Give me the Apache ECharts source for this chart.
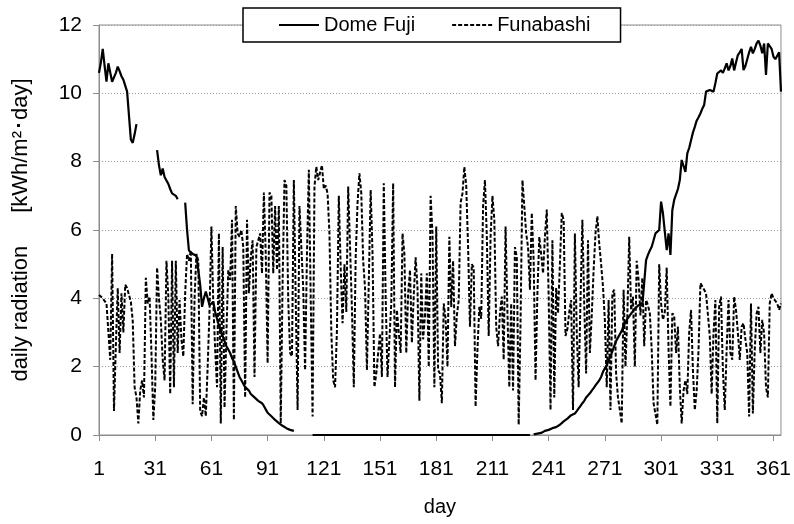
<!DOCTYPE html>
<html>
<head>
<meta charset="utf-8">
<script src="https://cdn.jsdelivr.net/npm/echarts@6/dist/echarts.min.js"></script>
<style>
  html, body { margin: 0; padding: 0; background: #fff; }
  #chart { width: 794px; height: 524px; }
</style>
</head>
<body>
<div id="chart"></div>
<script>
// daily radiation, day 1..365 (null = missing data)
const domeFuji = [
  10.6, 10.9, 11.3, 10.8, 10.34, 10.88, 10.83, 10.34, 10.34, 10.6,
  10.78, 10.65, 10.5, 10.4, 10.35, 10.05, 10.0, 8.65, 8.55, 8.8,
  9.1, null, null, null, null, null, null, null, null, null,
  null, 8.34, 7.9, 7.6, 7.8, 7.55, 7.45, 7.35, 7.2, 7.07,
  7.05, 7.0, 6.9, null, null, null, 6.8, 6.0, 5.4, 5.35,
  5.3, 5.27, 5.25, 5.2, 4.4, 3.75, 4.0, 4.2, 4.0, 3.8,
  3.85, 3.9, 3.6, 3.4, 3.2, 3.05, 2.9, 2.75, 2.6, 2.5,
  2.4, 2.25, 2.15, 2.0, 1.85, 1.7, 1.6, 1.5, 1.4, 1.35,
  1.3, 1.2, 1.15, 1.1, 1.05, 1.0, 0.95, 0.93, 0.85, 0.75,
  0.65, 0.6, 0.55, 0.5, 0.44, 0.4, 0.35, 0.3, 0.27, 0.22,
  0.2, 0.17, 0.15, 0.13, 0.12, null, null, null, null, null,
  null, null, null, null, 0, 0, 0, 0, 0, 0,
  0, 0, 0, 0, 0, 0, 0, 0, 0, 0,
  0, 0, 0, 0, 0, 0, 0, 0, 0, 0,
  0, 0, 0, 0, 0, 0, 0, 0, 0, 0,
  0, 0, 0, 0, 0, 0, 0, 0, 0, 0,
  0, 0, 0, 0, 0, 0, 0, 0, 0, 0,
  0, 0, 0, 0, 0, 0, 0, 0, 0, 0,
  0, 0, 0, 0, 0, 0, 0, 0, 0, 0,
  0, 0, 0, 0, 0, 0, 0, 0, 0, 0,
  0, 0, 0, 0, 0, 0, 0, 0, 0, 0,
  0, 0, 0, 0, 0, 0, 0, 0, 0, 0,
  0, 0, 0, 0, 0, 0, 0, 0, 0, 0,
  0, null, 0.02, 0.03, 0.04, 0.05, 0.06, 0.1, 0.12, 0.13,
  0.15, 0.17, 0.2, 0.22, 0.23, 0.25, 0.3, 0.35, 0.4, 0.45,
  0.48, 0.52, 0.58, 0.6, 0.63, 0.7, 0.78, 0.85, 0.93, 1.0,
  1.1, 1.15, 1.22, 1.3, 1.37, 1.45, 1.5, 1.6, 1.7, 1.85,
  1.95, 2.05, 2.2, 2.3, 2.45, 2.6, 2.75, 2.85, 2.95, 3.05,
  3.2, 3.3, 3.4, 3.45, 3.55, 3.6, 3.7, 3.75, 3.8, 3.85,
  3.8, 3.75, 5.12, 5.27, 5.4, 5.51, 5.7, 5.9, 5.95, 6.0,
  6.83, 6.49, 6.45, 5.41, 5.9, 5.27, 6.58, 6.88, 6.9, 7.2,
  7.46, 8.05, 8.1, 7.7, 8.24, 8.4, 8.63, 8.85, 9.02, 9.2,
  9.3, 9.41, 9.55, 9.66, 10.05, 10.08, 10.1, 10.05, 10.05, 10.3,
  10.58, 10.6, 10.67, 10.6, 10.73, 10.88, 10.67, 10.8, 11.02, 10.67,
  10.9, 11.12, 11.2, 11.3, 10.68, 10.8, 11.0, 11.2, 11.36, 11.17,
  11.3, 11.46, 11.54, 11.4, 11.17, 11.46, 10.54, 11.46, 11.5, 11.3,
  11.07, 11.0, 10.97, 11.2, 10.05
];

const funabashi = [
  4.1, 4.1, 4.0, 4.05, 3.85, 3.9, 2.2, 5.3, 0.7, 2.6,
  4.3, 2.4, 4.15, 3.0, 4.4, 4.3, 4.1, 3.9, 3.35, 1.4,
  1.1, 0.34, 1.3, 1.6, 1.1, 4.6, 3.85, 4.05, 2.4, 0.44,
  1.4, 4.9, 4.0, 3.37, 2.2, 1.6, 5.1, 4.05, 1.2, 5.1,
  1.4, 5.1, 2.4, 3.95, 2.8, 2.3, 4.15, 5.3, 5.1, 5.4,
  0.9, 4.0, 5.3, 5.1, 0.7, 0.55, 1.1, 0.55, 2.0, 3.65,
  6.1, 3.85, 2.5, 1.4, 5.9, 0.34, 5.5, 0.8, 3.0, 4.83,
  4.54, 6.3, 0.44, 6.7, 5.9, 5.8, 6.0, 5.5, 1.1, 6.3,
  4.15, 5.2, 5.7, 1.7, 5.5, 5.7, 5.9, 4.73, 7.1, 5.3,
  2.1, 7.1, 7.0, 4.73, 6.7, 4.83, 6.7, 0.34, 4.5, 7.46,
  7.3, 3.95, 2.4, 2.3, 7.46, 3.95, 0.73, 6.7, 5.5, 4.3,
  1.9, 5.3, 7.76, 4.0, 0.54, 7.27, 7.85, 7.46, 7.5, 7.9,
  7.2, 7.3, 7.07, 5.9, 3.0, 1.6, 1.4, 3.07, 7.0, 4.9,
  3.27, 5.0, 3.6, 7.27, 5.5, 3.7, 1.4, 5.2, 6.8, 7.66,
  7.07, 5.1, 4.3, 1.9, 4.5, 7.17, 5.3, 1.4, 1.8, 2.4,
  2.97, 1.7, 7.37, 4.05, 1.7, 2.8, 3.85, 7.37, 1.4, 3.66,
  3.0, 2.4, 5.9, 5.3, 2.4, 4.15, 4.83, 2.7, 4.1, 5.2,
  4.3, 1.0, 4.73, 2.8, 3.5, 4.73, 2.0, 7.0, 5.9, 1.4,
  6.1, 1.9, 1.8, 0.93, 3.85, 3.4, 2.0, 5.8, 3.75, 5.1,
  2.6, 3.5, 3.95, 6.8, 7.07, 7.85, 7.3, 5.5, 3.17, 5.0,
  4.9, 0.83, 2.5, 3.75, 3.4, 6.7, 7.46, 5.8, 2.9, 5.8,
  7.0, 6.3, 3.17, 2.6, 3.56, 4.05, 2.2, 6.1, 3.6, 1.4,
  3.85, 1.3, 5.5, 5.2, 0.3, 3.3, 7.46, 6.7, 5.9, 5.5,
  4.25, 6.5, 5.1, 1.6, 4.15, 5.8, 5.3, 4.73, 5.8, 6.6,
  4.05, 0.73, 5.7, 1.1, 4.3, 3.56, 5.0, 6.5, 6.3, 2.9,
  3.1, 3.6, 3.95, 0.73, 5.9, 3.0, 1.4, 3.95, 6.3, 3.8,
  1.8, 5.7, 2.4, 3.5, 4.83, 5.9, 6.4, 5.6, 5.0, 4.34,
  3.37, 1.4, 3.95, 0.73, 4.15, 4.25, 1.8, 1.1, 0.73, 0.34,
  4.25, 2.0, 3.5, 5.8, 3.66, 4.05, 2.0, 5.1, 4.54, 3.5,
  4.6, 2.6, 3.95, 3.8, 3.56, 2.5, 0.93, 0.9, 0.3, 5.0,
  3.85, 3.37, 3.6, 4.9, 2.5, 0.83, 3.56, 3.5, 2.4, 3.17,
  1.4, 0.34, 1.3, 1.6, 1.2, 3.0, 3.66, 1.9, 0.73, 1.3,
  2.5, 4.44, 4.35, 4.34, 4.15, 4.15, 2.9, 1.2, 3.0, 3.95,
  0.34, 3.75, 4.05, 1.9, 0.73, 2.5, 3.95, 2.4, 2.2, 4.05,
  3.66, 3.0, 2.2, 3.17, 3.27, 2.8, 2.4, 0.54, 3.85, 0.63,
  2.5, 3.56, 3.75, 2.4, 3.37, 2.97, 1.4, 1.1, 3.85, 4.15,
  4.0, 3.95, 3.85, 3.66, 3.85
];

const days = domeFuji.map((v, i) => String(i + 1));
const yTicks = [0, 2, 4, 6, 8, 10, 12];

const chart = echarts.init(document.getElementById('chart'), null, { renderer: 'canvas' });

const font = 'Liberation Sans, Arial, sans-serif';

const option = {
  animation: false,
  backgroundColor: '#fff',
  textStyle: { fontFamily: font, color: '#000' },
  grid: {
    left: 99,
    right: 12,
    top: 25,
    bottom: 89,
    show: true,
    borderColor: '#8c8c8c',
    borderWidth: 1
  },
  legend: {
    left: 243,
    top: 8,
    padding: [7, 30, 7, 35],
    backgroundColor: '#fff',
    borderColor: '#000',
    borderWidth: 1.5,
    borderRadius: 0,
    itemWidth: 40,
    itemHeight: 14,
    itemGap: 36,
    // hide the marker circle, keep only the line sample
    itemStyle: { opacity: 0, color: 'transparent', borderWidth: 0 },
    textStyle: { fontSize: 20, fontFamily: font, color: '#000' },
    data: ['Dome Fuji', 'Funabashi']
  },
  xAxis: {
    type: 'category',
    data: days,
    boundaryGap: false,
    name: 'day',
    nameLocation: 'middle',
    nameGap: 62,
    nameTextStyle: { fontSize: 20, fontFamily: font, color: '#000' },
    axisLine: { lineStyle: { color: '#8c8c8c', width: 1 } },
    axisTick: { interval: 29, length: 6, lineStyle: { color: '#8c8c8c' } },
    axisLabel: { interval: 29, margin: 24, fontSize: 21, fontFamily: font, color: '#000' },
    splitLine: { show: false }
  },
  yAxis: {
    type: 'value',
    min: yTicks[0],
    max: yTicks[yTicks.length - 1],
    interval: 2,
    name: 'daily radiation\u3000\u2002[kWh/m²･day]',
    nameLocation: 'middle',
    nameGap: 67,
    nameTextStyle: { fontSize: 22, fontFamily: font, color: '#000' },
    axisLine: { show: true, lineStyle: { color: '#8c8c8c', width: 1 } },
    axisTick: { show: true, length: 6, lineStyle: { color: '#8c8c8c' } },
    axisLabel: { margin: 17, fontSize: 21, fontFamily: font, color: '#000' },
    splitLine: { show: true, lineStyle: { color: '#9a9a9a', type: [1, 2], width: 1 } }
  },
  series: [
    {
      name: 'Dome Fuji',
      type: 'line',
      data: domeFuji,
      symbol: 'none',
      connectNulls: false,
      z: 3,
      lineStyle: { color: '#000', width: 2.2, type: 'solid' },
      itemStyle: { color: '#000' }
    },
    {
      name: 'Funabashi',
      type: 'line',
      data: funabashi,
      symbol: 'none',
      z: 2,
      lineStyle: { color: '#000', width: 2, type: [4, 2] },
      itemStyle: { color: '#000' }
    }
  ]
};

chart.setOption(option);
</script>
</body>
</html>
